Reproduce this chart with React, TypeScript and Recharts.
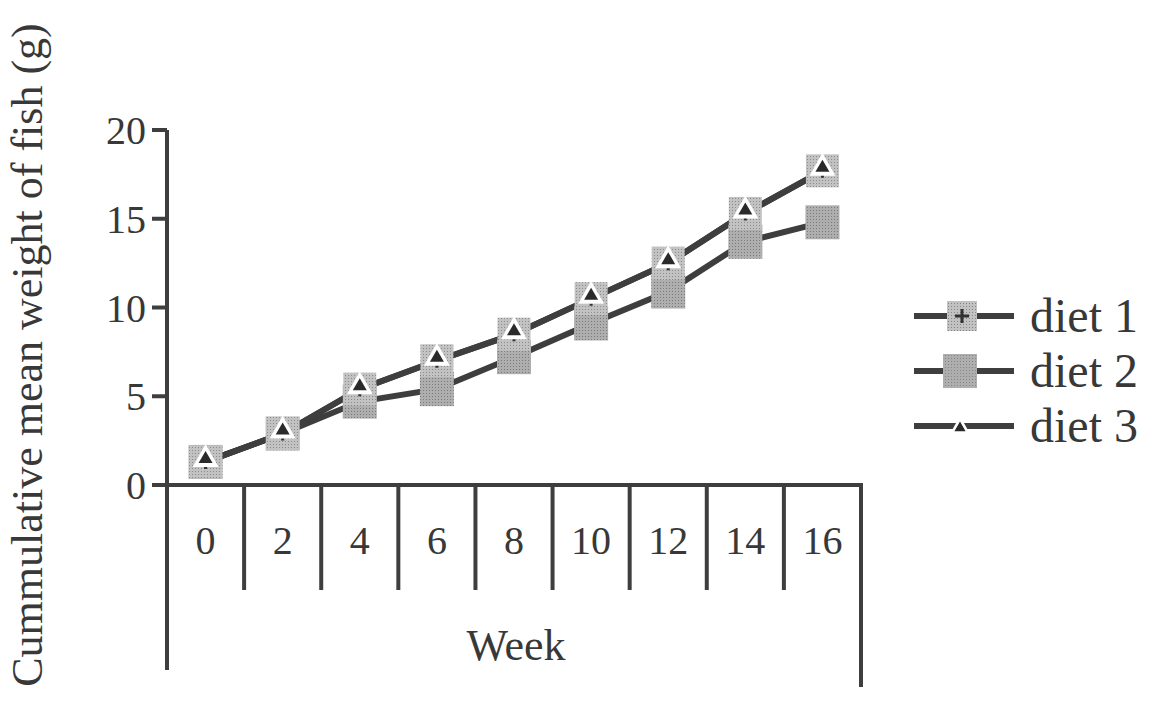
import { LineChart, Line, XAxis, YAxis, Legend } from 'recharts';

const weeks = ['0', '2', '4', '6', '8', '10', '12', '14', '16'];
const diet1 = [1.3, 2.9, 5.4, 7.0, 8.5, 10.5, 12.5, 15.3, 17.7];
const diet2 = [1.3, 2.9, 4.7, 5.4, 7.2, 9.1, 10.9, 13.7, 14.8];
const diet3 = [1.3, 2.9, 5.4, 7.0, 8.5, 10.5, 12.5, 15.3, 17.7];
const yTicks = [0, 5, 10, 15, 20];

const data = weeks.map((w, i) => ({ week: w, diet1: diet1[i], diet2: diet2[i], diet3: diet3[i] }));

const FONT = '"Liberation Serif", "Times New Roman", serif';
const INK = '#383838';
const LINE = '#3e3e3e';

// stippled grey fill like the printed markers
const Stipple = ({ id, base, dot }: { id: string; base: string; dot: string }) => (
    <defs>
        <pattern id={id} width={3} height={3} patternUnits="userSpaceOnUse">
            <rect width={3} height={3} fill={base} />
            <rect width={1} height={1} fill={dot} />
        </pattern>
    </defs>
);

const squareMarker = (cx: number, cy: number, fill: string, plus: boolean, size = 32) => (
    <g>
        <rect x={cx - size / 2} y={cy - size / 2} width={size} height={size} fill={fill} />
        {plus && (
            <path d={`M${cx - 7},${cy} H${cx + 7} M${cx},${cy - 7} V${cy + 7}`} stroke="#333" strokeWidth={3} />
        )}
    </g>
);

const triangleMarker = (cx: number, cy: number, s = 1) => (
    <g>
        <polygon points={`${cx},${cy - 15 * s} ${cx - 13 * s},${cy + 8 * s} ${cx + 13 * s},${cy + 8 * s}`} fill="#fff" />
        <polygon points={`${cx},${cy - 8 * s} ${cx - 7 * s},${cy + 4 * s} ${cx + 7 * s},${cy + 4 * s}`} fill="#2a2a2a" />
    </g>
);

const Diet1Dot = (props: any) => {
    const { cx, cy } = props;
    if (cx == null || cy == null) return null;
    return (
        <g key={`d1-${props.index}`}>
            <Stipple id="stip1" base="#c2c2c2" dot="#8c8c8c" />
            {squareMarker(cx, cy, 'url(#stip1)', true, 33)}
        </g>
    );
};

const Diet2Dot = (props: any) => {
    const { cx, cy } = props;
    if (cx == null || cy == null) return null;
    return (
        <g key={`d2-${props.index}`}>
            <Stipple id="stip2" base="#aeaeae" dot="#7a7a7a" />
            {squareMarker(cx, cy, 'url(#stip2)', false, 34)}
        </g>
    );
};

const Diet3Dot = (props: any) => {
    const { cx, cy } = props;
    if (cx == null || cy == null) return null;
    return <g key={`d3-${props.index}`}>{triangleMarker(cx, cy - 3)}</g>;
};

// week label plus the long divider lines hanging under the axis
const WeekTick = (props: any) => {
    const { x, y, payload, index } = props;
    const half = payload?.offset || 38.5;
    const last = index === weeks.length - 1;
    return (
        <g>
            <text x={x} y={y + 69} textAnchor="middle" fontSize={40} fontFamily={FONT} fill={INK}>
                {payload.value}
            </text>
            <line x1={x + half} x2={x + half} y1={y - 2} y2={last ? 687 : 590} stroke={LINE} strokeWidth={4} />
            {index === 0 && <line x1={x - half} x2={x - half} y1={y - 2} y2={670} stroke={LINE} strokeWidth={4} />}
        </g>
    );
};

const LegendContent = (props: any) => {
    const items = [...(props.payload || [])].sort((a: any, b: any) => String(a.value).localeCompare(String(b.value)));
    return (
        <div>
            {items.map((item: any) => (
                <div key={item.value} style={{ display: 'flex', alignItems: 'center', height: 55 }}>
                    <svg width={110} height={50}>
                        <Stipple id={`leg-${item.dataKey}`} base={item.dataKey === 'diet2' ? '#aeaeae' : '#c2c2c2'} dot="#858585" />
                        <line x1={2} x2={102} y1={25} y2={25} stroke={LINE} strokeWidth={6} />
                        {item.dataKey === 'diet1' && squareMarker(50, 25, `url(#leg-diet1)`, true, 30)}
                        {item.dataKey === 'diet2' && squareMarker(48, 25, `url(#leg-diet2)`, false, 34)}
                        {item.dataKey === 'diet3' && triangleMarker(48, 27, 0.8)}
                    </svg>
                    <span style={{ fontFamily: FONT, fontSize: 48, color: INK, marginLeft: 8, lineHeight: 1 }}>
                        {item.value}
                    </span>
                </div>
            ))}
        </div>
    );
};

export default function App() {
    return (
        <div style={{ position: 'absolute', left: 0, top: 0, width: 1150, height: 701, background: '#fff' }}>
            <LineChart width={1150} height={701} data={data} margin={{ top: 130, right: 289, bottom: 0, left: 0 }}>
                <XAxis
                    dataKey="week"
                    scale="band"
                    tick={<WeekTick />}
                    tickLine={false}
                    tickSize={0}
                    tickMargin={0}
                    interval={0}
                    axisLine={{ stroke: LINE, strokeWidth: 4 }}
                    height={216}
                />
                <YAxis
                    domain={[0, 20]}
                    ticks={yTicks}
                    width={167}
                    tickSize={15}
                    tickMargin={6}
                    axisLine={{ stroke: LINE, strokeWidth: 4 }}
                    tickLine={{ stroke: LINE, strokeWidth: 4 }}
                    tick={{ fontSize: 40, fontFamily: FONT, fill: INK }}
                    label={{
                        content: () => (
                            <text
                                x={0}
                                y={0}
                                transform="translate(42,355) rotate(-90)"
                                textAnchor="middle"
                                fontSize={44}
                                fontFamily={FONT}
                                fill={INK}
                            >
                                Cummulative mean weight of fish (g)
                            </text>
                        ),
                    }}
                />
                <Legend
                    layout="vertical"
                    align="center"
                    verticalAlign="middle"
                    content={<LegendContent />}
                    wrapperStyle={{ left: 912, top: 288, width: 238 }}
                />
                <Line
                    dataKey="diet2"
                    name="diet 2"
                    stroke={LINE}
                    strokeWidth={6}
                    dot={<Diet2Dot />}
                    isAnimationActive={false}
                />
                <Line
                    dataKey="diet1"
                    name="diet 1"
                    stroke={LINE}
                    strokeWidth={6}
                    dot={<Diet1Dot />}
                    isAnimationActive={false}
                />
                <Line
                    dataKey="diet3"
                    name="diet 3"
                    stroke={LINE}
                    strokeWidth={6}
                    dot={<Diet3Dot />}
                    isAnimationActive={false}
                />
            </LineChart>
            <div
                style={{
                    position: 'absolute',
                    left: 416,
                    top: 620,
                    width: 200,
                    textAlign: 'center',
                    fontFamily: FONT,
                    fontSize: 44,
                    color: INK,
                }}
            >
                Week
            </div>
        </div>
    );
}
